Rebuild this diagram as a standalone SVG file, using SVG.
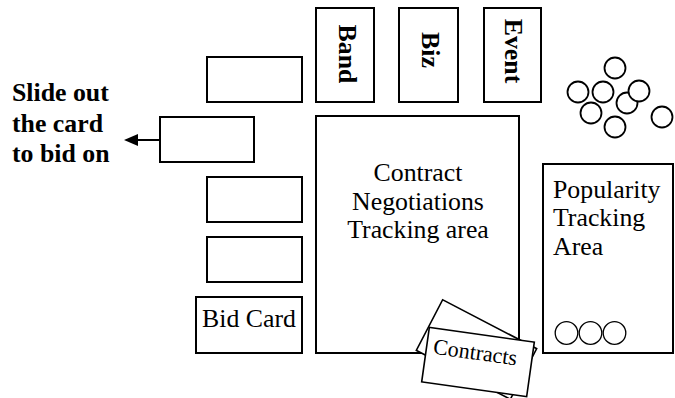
<svg xmlns="http://www.w3.org/2000/svg" width="675" height="398" viewBox="0 0 675 398">
  <style>
    .box { fill: #fff; stroke: #000; stroke-width: 2; }
    .card { fill: #fff; stroke: #000; stroke-width: 1.6; }
    .chip { fill: #fff; stroke: #000; stroke-width: 1.8; }
    .thin { fill: none; stroke: #000; stroke-width: 1.3; }
    .lbl { font-family: "Liberation Serif", "Times New Roman", serif; font-size: 25.8px; fill: #000; }
    .bold { font-weight: bold; }
    .mid { text-anchor: middle; }
  </style>
  <defs>
    <marker id="arrow" viewBox="0 0 14 12" refX="1" refY="6" markerWidth="14" markerHeight="12" markerUnits="userSpaceOnUse" orient="auto-start-reverse">
      <path d="M0,0 L14,6 L0,12 z" fill="#000"/>
    </marker>
  </defs>

  <!-- instruction text -->
  <g id="slide-note">
    <text class="lbl bold" x="12" y="100.5">Slide out</text>
    <text class="lbl bold" x="12" y="131.5">the card</text>
    <text class="lbl bold" x="12" y="161.5">to bid on</text>
  </g>

  <!-- category cards along the top -->
  <g id="band">
    <rect class="box" x="316" y="8" width="58" height="94"/>
    <text class="lbl bold mid" transform="translate(339,54) rotate(90)">Band</text>
  </g>
  <g id="biz">
    <rect class="box" x="399" y="8" width="59" height="94"/>
    <text class="lbl bold mid" transform="translate(422,50) rotate(90)">Biz</text>
  </g>
  <g id="event">
    <rect class="box" x="484" y="8" width="57" height="94"/>
    <text class="lbl bold mid" transform="translate(505,51) rotate(90)">Event</text>
  </g>

  <!-- bid card column -->
  <g id="card-1"><rect class="box" x="207" y="57" width="95" height="45"/></g>
  <g id="card-slide"><rect class="box" x="160" y="117" width="94" height="45"/></g>
  <g id="card-3"><rect class="box" x="207" y="177" width="95" height="45"/></g>
  <g id="card-4"><rect class="box" x="207" y="237" width="95" height="45"/></g>
  <g id="bid-card">
    <rect class="box" x="196" y="297" width="106" height="56"/>
    <text class="lbl mid" x="249" y="327">Bid Card</text>
  </g>

  <!-- contract negotiations board -->
  <g id="contract-area">
    <rect class="box" x="316" y="116" width="203" height="237"/>
    <text class="lbl mid" x="418" y="181">Contract</text>
    <text class="lbl mid" x="418" y="209.5">Negotiations</text>
    <text class="lbl mid" x="418" y="238">Tracking area</text>
  </g>

  <!-- popularity board -->
  <g id="popularity-area">
    <rect class="box" x="543" y="164" width="130" height="189"/>
    <text class="lbl" x="553" y="197.5">Popularity</text>
    <text class="lbl" x="553" y="226">Tracking</text>
    <text class="lbl" x="553" y="254.5">Area</text>
    <circle class="thin" cx="566.5" cy="333" r="11.3"/>
    <circle class="thin" cx="590.5" cy="333" r="11.3"/>
    <circle class="thin" cx="614.5" cy="333" r="11.3"/>
  </g>

  <!-- contract card stack -->
  <g id="contracts">
    <rect class="card" x="-53" y="-28.5" width="106" height="57" transform="translate(476.5,349.5) rotate(27.5)"/>
    <g transform="translate(478,362) rotate(8)">
      <rect class="card" x="-53" y="-27.5" width="106" height="55"/>
      <text class="lbl mid" x="-4" y="-2" style="font-size:22px">Contracts</text>
    </g>
  </g>

  <!-- token pile -->
  <g id="tokens">
    <circle class="chip" cx="615" cy="68" r="10.5"/>
    <circle class="chip" cx="578" cy="92" r="10.5"/>
    <circle class="chip" cx="603" cy="92" r="10.5"/>
    <circle class="chip" cx="591" cy="113" r="10.5"/>
    <circle class="chip" cx="615" cy="127" r="10.5"/>
    <circle class="chip" cx="627" cy="103" r="10.5"/>
    <circle class="chip" cx="639" cy="91" r="10.5"/>
    <circle class="chip" cx="662" cy="117" r="10.5"/>
  </g>

  <!-- connectors -->
  <g id="connectors">
    <line x1="160" y1="140" x2="137" y2="140" stroke="#000" stroke-width="2" marker-end="url(#arrow)"/>
  </g>
</svg>
